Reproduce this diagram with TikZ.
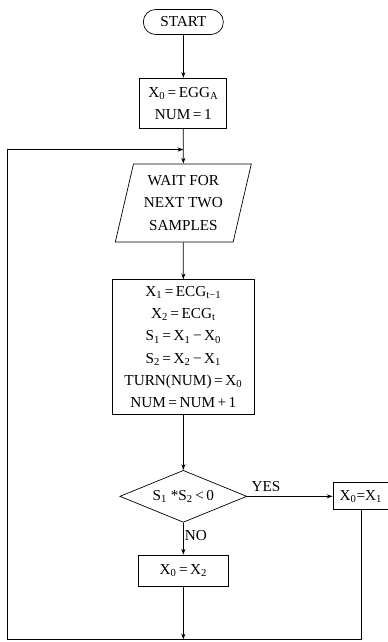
\documentclass[tikz,border=0pt]{standalone}
\usepackage{fontspec}
\setmainfont{Liberation Serif}
\usetikzlibrary{arrows.meta, positioning, shapes.geometric}
\newcommand{\sbs}[1]{\textsubscript{#1}}
\newcommand{\eq}{\,=\,}
\tikzset{
  base/.style={
    draw, line width=0.6pt, align=center, inner sep=2pt,
    font=\fontsize{13}{19}\selectfont,
  },
  terminal/.style={base, rectangle, rounded corners=0.37cm,
    minimum width=2.4cm, minimum height=0.75cm},
  procbox/.style={base, rectangle},
  iobox/.style={base, trapezium, trapezium left angle=73,
    trapezium right angle=107, trapezium stretches body,
    minimum width=4.08cm, minimum height=2.34cm},
  decision/.style={base, diamond, aspect=2.44, inner sep=0pt,
    minimum width=3.81cm, minimum height=1.56cm},
  arr/.style={-{Stealth[length=5pt,width=3.5pt]}, line width=0.6pt},
  lbl/.style={font=\fontsize{13}{15}\selectfont},
}
\begin{document}
\begin{tikzpicture}
\useasboundingbox (0,0) rectangle (11.64,-19.26);

% main column
\node[terminal] (start) at (5.5,-0.66) {START};
\node[procbox, below=1.29cm of start, minimum width=2.61cm,
      minimum height=1.5cm] (init)
      {X\sbs{0}\eq EGG\sbs{A}\\NUM\eq 1};
\coordinate[below=0.63cm of init] (loopin);
\node[iobox, below=0.42cm of loopin] (wait)
      {WAIT FOR\\NEXT TWO\\SAMPLES};
\node[procbox, below=1.11cm of wait, minimum width=4.26cm,
      minimum height=4.05cm] (calc)
      {X\sbs{1}\eq ECG\sbs{t−1}\\X\sbs{2}\eq ECG\sbs{t}\\
       S\sbs{1}\eq X\sbs{1}\,−\,X\sbs{0}\\S\sbs{2}\eq X\sbs{2}\,−\,X\sbs{1}\\
       TURN(NUM)\eq X\sbs{0}\\NUM\eq NUM\,+\,1};
\node[decision, below=1.65cm of calc] (test)
      {S\sbs{1} *S\sbs{2}\,<\,0};

% branches
\node[procbox, right=2.56cm of test, minimum width=1.68cm,
      minimum height=0.81cm, inner sep=1pt] (swapone) {X\sbs{0}=X\sbs{1}};
\node[procbox, below=0.96cm of test, minimum width=2.7cm,
      minimum height=0.93cm] (swaptwo) {X\sbs{0}\eq X\sbs{2}};
\coordinate[below=1.59cm of swaptwo] (loopout);
\coordinate (corner) at (0.21,0 |- loopout);

% arrows
\draw[arr] (start) -- (init);
\draw[arr] (init) -- (wait);
\draw[arr] (wait) -- (calc);
\draw[arr] (calc) -- (test);
\draw[arr] (test) -- node[lbl, above, pos=0.22] {YES} (swapone);
\draw[arr] (test) -- node[lbl, right, pos=0.4, inner sep=1pt] {NO} (swaptwo);
\draw[arr] (swaptwo) -- (loopout);

% loop back
\draw[arr] (swapone.south) |- (corner) |- (loopin);

\end{tikzpicture}
\end{document}
